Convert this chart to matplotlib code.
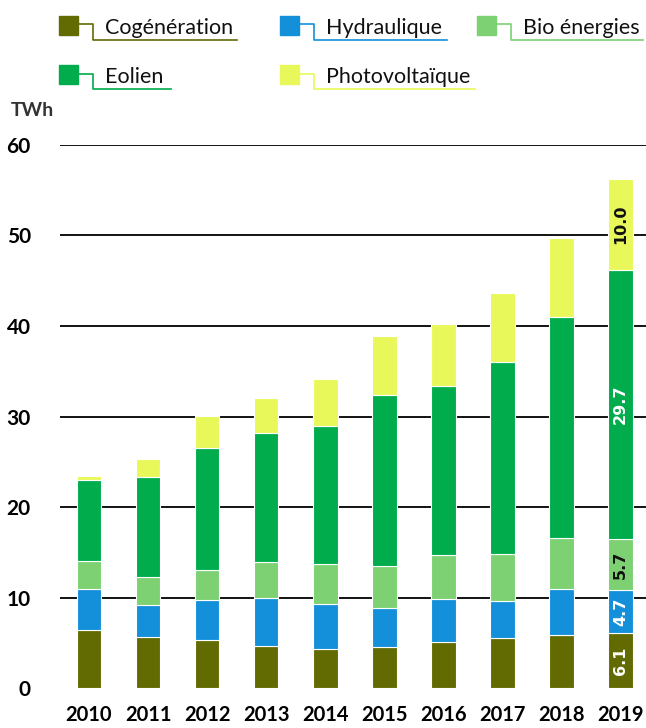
import matplotlib
matplotlib.use("Agg")
import matplotlib.pyplot as plt
from matplotlib.patches import Rectangle
from matplotlib.lines import Line2D
import numpy as np

# Electricity production by source, TWh
years = ["2010", "2011", "2012", "2013", "2014", "2015", "2016", "2017", "2018", "2019"]
cogeneration = [6.4, 5.7, 5.3, 4.7, 4.3, 4.55, 5.1, 5.5, 5.85, 6.1]
hydraulique = [4.6, 3.5, 4.4, 5.25, 5.05, 4.3, 4.75, 4.1, 5.15, 4.7]
bio_energies = [3.05, 3.1, 3.35, 3.95, 4.35, 4.65, 4.9, 5.2, 5.55, 5.7]
eolien = [8.95, 11.0, 13.45, 14.3, 15.25, 18.9, 18.6, 21.2, 24.4, 29.7]
photovoltaique = [0.4, 2.0, 3.6, 3.85, 5.2, 6.5, 6.9, 7.7, 8.8, 10.0]

series_names = ["Cogénération", "Hydraulique", "Bio énergies", "Eolien", "Photovoltaïque"]
series_values = [cogeneration, hydraulique, bio_energies, eolien, photovoltaique]
series_colors = ["#626b02", "#1490da", "#7dd173", "#00ac4c", "#e8f85a"]
label_colors = ["white", "white", "#111111", "white", "#111111"]

y_ticks = [0, 10, 20, 30, 40, 50, 60]
unit_label = "TWh"

W, H = 646, 728
fig = plt.figure(figsize=(W / 100, H / 100), dpi=100)

ax_left, ax_right = 60, 646
ax_bottom, ax_top = 688.3, 144.9
ax = fig.add_axes([ax_left / W, (H - ax_bottom) / H,
                   (ax_right - ax_left) / W, (ax_bottom - ax_top) / H])

x = np.arange(len(years))
bar_w = 0.415
bottom = np.zeros(len(years))
for name, vals, col in zip(series_names, series_values, series_colors):
    vals = np.array(vals)
    ax.bar(x, vals, bar_w, bottom=bottom, color=col, edgecolor="white",
           linewidth=0.8, zorder=3, label=name)
    bottom = bottom + vals

# Value labels on the last year
last = len(years) - 1
base = 0.0
for vals, lc in zip(series_values, label_colors):
    v = vals[last]
    ax.text(x[last], base + v / 2, f"{v:.1f}", rotation=90, ha="center",
            va="center", color=lc, fontsize=11.5, fontweight="bold",
            family="DejaVu Sans", zorder=4)
    base += v

for t in y_ticks[1:]:
    ax.axhline(t, color="black", linewidth=1.3, zorder=1)

ax.set_xlim(-(89 - ax_left) / 59.08, (ax_right - 89) / 59.08)
ax.set_ylim(0, 60)
ax.set_yticks(y_ticks)
ax.set_yticklabels([str(t) for t in y_ticks], fontsize=15, fontweight="bold",
                   family="Lato")
ax.set_xticks(x)
ax.set_xticklabels(years, fontsize=14.5, fontweight="bold", family="Lato")
ax.tick_params(axis="both", length=0)
ax.tick_params(axis="y", pad=21)
ax.tick_params(axis="x", pad=12)
for s in ax.spines.values():
    s.set_visible(False)

# Legend and unit drawn on a pixel-coordinate overlay
ov = fig.add_axes([0, 0, 1, 1], zorder=5)
ov.set_xlim(0, W)
ov.set_ylim(H, 0)
ov.axis("off")

ov.text(11, 110, unit_label, fontsize=14, fontweight="bold", family="Lato",
        color="#333333", va="center", ha="left")

legend_pos = [(59, 25.3), (280, 25.3), (477, 25.3), (59, 74.5), (280, 74.5)]
line_ends = [236.7, 446.7, 643.3, 170.7, 475]
for name, col, (sx, sy), xend in zip(series_names, series_colors, legend_pos, line_ends):
    ov.add_patch(Rectangle((sx, sy - 9.5), 18.5, 19, color=col))
    corner = sx + 34
    under = sy + 14.5
    ov.add_line(Line2D([sx + 18.5, corner, corner, xend], [sy - 1, sy - 1, under, under],
                       color=col, linewidth=1.2))
    ov.text(sx + 46, sy + 8.2, name, fontsize=15.5, family="Lato",
            color="#111111", va="baseline", ha="left")

fig.savefig("out.png", dpi=100)
